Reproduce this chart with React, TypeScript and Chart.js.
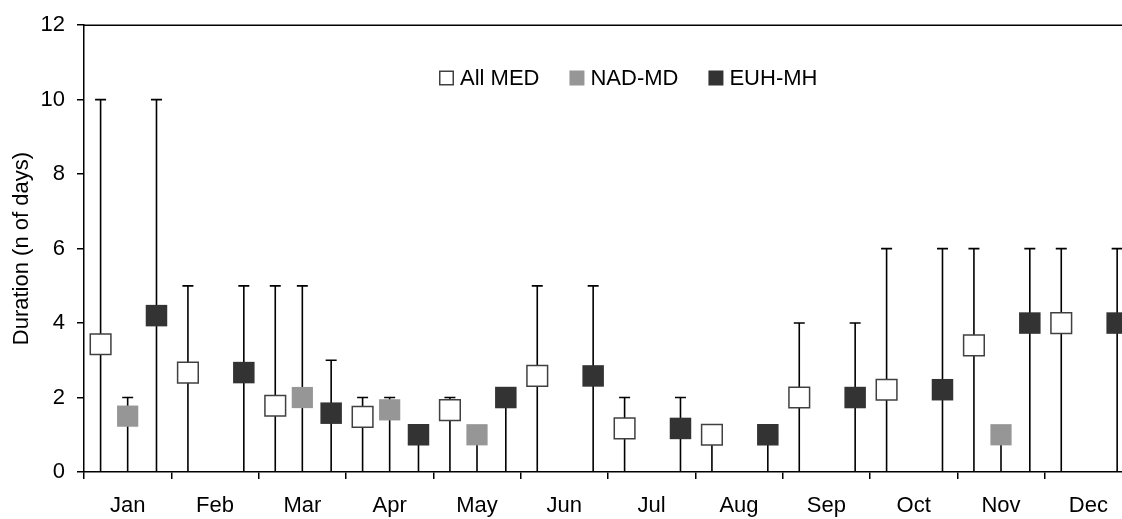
import React, { useEffect, useRef } from 'react';
import { Chart, registerables } from 'chart.js';

Chart.register(...registerables);

const months = ['Jan', 'Feb', 'Mar', 'Apr', 'May', 'Jun', 'Jul', 'Aug', 'Sep', 'Oct', 'Nov', 'Dec'];
const yTicks = [0, 2, 4, 6, 8, 10, 12];

const allMedMean: (number | null)[] = [3.43, 2.67, 1.78, 1.48, 1.66, 2.58, 1.17, 1.0, 2.0, 2.21, 3.4, 4.0];
const allMedMax: (number | null)[] = [10, 5, 5, 2, 2, 5, 2, 1, 4, 6, 6, 6];

const nadMdMean: (number | null)[] = [1.5, null, 2.0, 1.67, 1.0, null, null, null, null, null, 1.0, null];
const nadMdMax: (number | null)[] = [2, null, 5, 2, 1, null, null, null, null, null, 1, null];

const euhMhMean: (number | null)[] = [4.2, 2.67, 1.58, 1.0, 2.0, 2.58, 1.17, 1.0, 2.0, 2.21, 4.0, 4.0];
const euhMhMax: (number | null)[] = [10, 5, 3, 1, 2, 5, 2, 1, 4, 6, 6, 6];

const FONT = "'Liberation Sans', Arial, Helvetica, sans-serif";

function toPoints(means: (number | null)[], maxes: (number | null)[], offset: number) {
  const pts: { x: number; y: number; max: number }[] = [];
  means.forEach((v, i) => {
    if (v !== null && v !== undefined) {
      pts.push({ x: i + offset, y: v, max: (maxes[i] ?? v) as number });
    }
  });
  return pts;
}

const whiskerPlugin = {
  id: 'whiskers',
  beforeDatasetsDraw(chart: any) {
    const ctx = chart.ctx;
    const yScale = chart.scales.y;
    ctx.save();
    ctx.strokeStyle = '#000';
    ctx.lineWidth = 1.6;
    chart.data.datasets.forEach((ds: any, di: number) => {
      const meta = chart.getDatasetMeta(di);
      meta.data.forEach((el: any, i: number) => {
        const raw = ds.data[i];
        if (!raw) return;
        const top = yScale.getPixelForValue(raw.max);
        const bottom = yScale.getPixelForValue(0);
        ctx.beginPath();
        ctx.moveTo(el.x, bottom);
        ctx.lineTo(el.x, top);
        ctx.moveTo(el.x - 5.5, top);
        ctx.lineTo(el.x + 5.5, top);
        ctx.stroke();
      });
    });
    ctx.restore();
  },
};

const framePlugin = {
  id: 'frame',
  afterDraw(chart: any) {
    const { ctx, chartArea } = chart;
    ctx.save();
    ctx.strokeStyle = '#000';
    ctx.lineWidth = 1.5;
    ctx.beginPath();
    ctx.moveTo(chartArea.left, chartArea.top);
    ctx.lineTo(chartArea.right, chartArea.top);
    ctx.lineTo(chartArea.right, chartArea.bottom);
    ctx.stroke();
    ctx.restore();
  },
};

const legendPlugin = {
  id: 'insideLegend',
  afterDraw(chart: any) {
    const ctx = chart.ctx;
    const startX = 439;
    const centerY = 78;
    const box = 15;
    ctx.save();
    ctx.font = `22px ${FONT}`;
    ctx.textBaseline = 'middle';
    ctx.textAlign = 'left';
    let x = startX;
    chart.data.datasets.forEach((ds: any) => {
      ctx.fillStyle = ds.backgroundColor;
      ctx.fillRect(x, centerY - box / 2, box, box);
      if (ds.borderWidth) {
        ctx.strokeStyle = ds.borderColor;
        ctx.lineWidth = 1.5;
        ctx.strokeRect(x + 0.75, centerY - box / 2 + 0.75, box - 1.5, box - 1.5);
      }
      ctx.fillStyle = '#000';
      ctx.fillText(ds.label, x + box + 6, centerY + 1);
      x += box + 6 + ctx.measureText(ds.label).width + 30;
    });
    ctx.restore();
  },
};

export default function App() {
  const canvasRef = useRef<HTMLCanvasElement>(null);

  useEffect(() => {
    if (!canvasRef.current) return;
    const chart = new Chart(canvasRef.current, {
      type: 'line',
      data: {
        labels: months,
        datasets: [
          {
            label: 'All MED',
            data: toPoints(allMedMean, allMedMax, -0.31) as any,
            xAxisID: 'xv',
            showLine: false,
            pointStyle: 'rect',
            pointRadius: 14.6,
            pointHoverRadius: 14.6,
            backgroundColor: '#ffffff',
            borderColor: '#404040',
            borderWidth: 1.5,
            pointBorderWidth: 1.5,
            clip: false as any,
          },
          {
            label: 'NAD-MD',
            data: toPoints(nadMdMean, nadMdMax, 0) as any,
            xAxisID: 'xv',
            showLine: false,
            pointStyle: 'rect',
            pointRadius: 15,
            pointHoverRadius: 15,
            backgroundColor: '#969696',
            borderColor: '#969696',
            borderWidth: 0,
            pointBorderWidth: 0,
            clip: false as any,
          },
          {
            label: 'EUH-MH',
            data: toPoints(euhMhMean, euhMhMax, 0.33) as any,
            xAxisID: 'xv',
            showLine: false,
            pointStyle: 'rect',
            pointRadius: 15.2,
            pointHoverRadius: 15.2,
            backgroundColor: '#333333',
            borderColor: '#333333',
            borderWidth: 0,
            pointBorderWidth: 0,
            clip: false as any,
          },
        ],
      },
      options: {
        animation: false,
        responsive: false,
        events: [],
        layout: { autoPadding: false, padding: { left: 0, top: 20.5, right: 2, bottom: 0 } },
        plugins: {
          legend: { display: false },
          tooltip: { enabled: false },
        },
        scales: {
          x: {
            type: 'category',
            position: 'bottom',
            offset: true,
            grid: {
              offset: true,
              drawOnChartArea: false,
              drawTicks: true,
              tickLength: 7,
              color: '#000',
              lineWidth: 1.5,
            },
            border: { display: true, color: '#000', width: 1.5 },
            ticks: {
              color: '#000',
              font: { family: FONT, size: 22 },
              padding: 14,
              maxRotation: 0,
              autoSkip: false,
            },
            afterFit: (scale: any) => {
              scale.height = 47;
              scale.paddingLeft = 0;
              scale.paddingRight = 0;
            },
          },
          xv: {
            type: 'linear',
            display: false,
            min: -0.5,
            max: 11.5,
            ticks: { display: false },
          },
          y: {
            type: 'linear',
            min: 0,
            max: 12,
            afterBuildTicks: (scale: any) => {
              scale.ticks = yTicks.map((v) => ({ value: v }));
            },
            grid: {
              drawOnChartArea: false,
              drawTicks: true,
              tickLength: 7,
              color: '#000',
              lineWidth: 1.5,
            },
            border: { display: true, color: '#000', width: 1.5 },
            ticks: {
              color: '#000',
              font: { family: FONT, size: 22 },
              padding: 12,
            },
            title: {
              display: true,
              text: 'Duration (n of days)',
              color: '#000',
              font: { family: FONT, size: 22 },
              padding: { top: 9, bottom: 0 },
            },
            afterFit: (scale: any) => {
              scale.width = 84;
            },
          },
        },
      },
      plugins: [whiskerPlugin, framePlugin, legendPlugin],
    });
    return () => chart.destroy();
  }, []);

  return (
    <div
      style={{
        position: 'fixed',
        left: 0,
        top: 0,
        width: 1122,
        height: 519,
        overflow: 'hidden',
        background: '#fff',
      }}
    >
      <canvas ref={canvasRef} width={1134} height={519} style={{ display: 'block' }} />
    </div>
  );
}
